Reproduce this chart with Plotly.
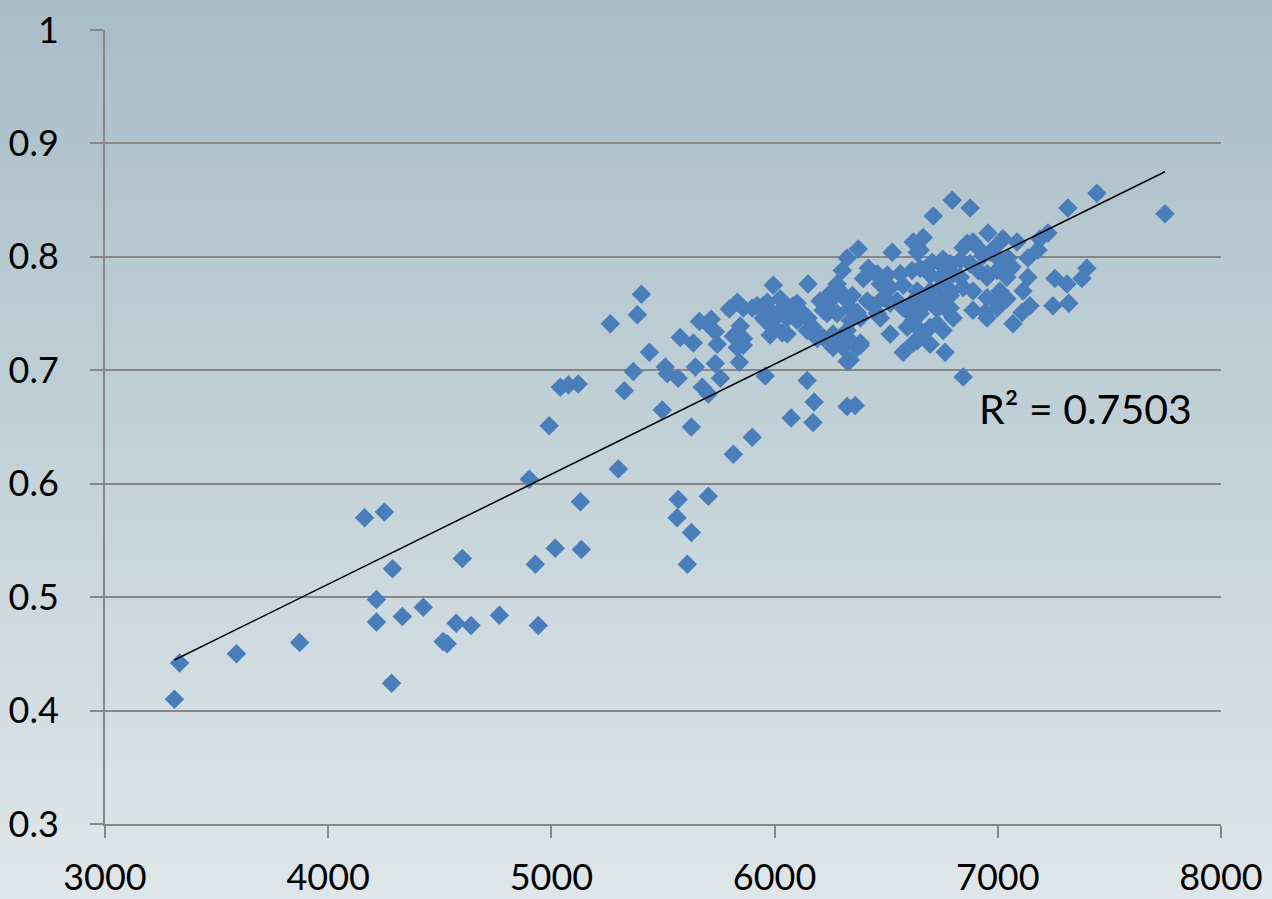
import base64
import struct
import zlib

import numpy as np
import plotly.graph_objects as go

# ---------------- data ----------------
x_vals = [
    3334, 3311, 3589, 3872, 4163, 4252, 4288, 4216, 4216, 4332, 4426, 4284,
    4515, 4533, 4573, 4640, 4601, 4767, 4928, 4941, 5017, 5134, 5130, 4901,
    5403, 5385, 5264, 5439, 5367, 5327, 5040, 5076, 5120, 4990, 5300, 5568,
    5563, 5703, 5627, 5609, 5497, 5627, 5815, 5900, 5577, 5636, 5663, 5716,
    5734, 5743, 5510, 5519, 5568, 5645, 5734, 5676, 5703, 5757, 5842, 5846,
    5860, 5815, 5797, 5833, 5900, 5949, 5994, 5958, 5980, 6025, 6056, 6101,
    6150, 6172, 6204, 6249, 5958, 6146, 6177, 6074, 6172, 6325, 6361, 6307,
    6325, 5698, 5860, 5860, 5833, 5922, 5967, 5949, 5994, 6016, 6034,
    6796, 6876, 6711, 7444, 7314, 7749, 6375, 6527, 6325, 6621, 6666, 6652,
    6956, 7023, 7086, 7189, 7225, 7180, 7399, 7377, 7256, 7310, 7247, 7318,
    7144, 7109, 7068, 6889, 6943, 6988, 7041, 7135, 7113, 6845, 6518, 6576,
    6764, 6728, 6339, 6384,
    7135, 6845, 6889, 6832, 6876, 6934, 6966, 7010, 7046, 7064, 6787, 6832,
    6912, 6952, 6997, 7041, 6845, 6787,
    6639, 6303, 6280, 6249, 6420, 6398, 6474, 6505, 6518, 6563, 6576, 6616,
    6652, 6706, 6755, 6787, 6697, 6742, 6800, 6742, 6787, 6070, 6114, 6056,
    6101, 6150, 6218, 6294, 6325, 6348, 6280, 6339, 6370, 6415, 6442, 6460,
    6487, 6518, 6549, 6576, 6607, 6621, 6652, 6666, 6706, 6728, 6755, 6787,
    6800, 6177, 6218, 6262, 6191, 6262, 6325, 6384, 6594, 6621, 6621, 6666,
    6697, 6755,
    5967, 6083, 6258, 6011, 6083, 6056, 6146, 6235, 6339, 6384, 6474, 6474,
    6460, 6262, 6325, 6370, 6863, 6921, 7005, 6684, 6742, 6952, 6639, 6697,
    6773, 6889, 6952, 7010, 6594, 6652, 6773, 6952, 6997, 6652, 6639, 6697,
]
y_vals = [
    0.442, 0.410, 0.450, 0.460, 0.570, 0.575, 0.525, 0.498, 0.478, 0.483, 0.491, 0.424,
    0.461, 0.459, 0.477, 0.475, 0.534, 0.484, 0.529, 0.475, 0.543, 0.542, 0.584, 0.604,
    0.767, 0.749, 0.741, 0.716, 0.699, 0.682, 0.685, 0.687, 0.688, 0.651, 0.613, 0.586,
    0.570, 0.589, 0.557, 0.529, 0.665, 0.650, 0.626, 0.641, 0.729, 0.724, 0.743, 0.745,
    0.734, 0.723, 0.703, 0.697, 0.693, 0.703, 0.706, 0.685, 0.679, 0.693, 0.707, 0.739,
    0.722, 0.730, 0.754, 0.760, 0.755, 0.757, 0.775, 0.744, 0.731, 0.763, 0.750, 0.759,
    0.776, 0.738, 0.761, 0.753, 0.695, 0.691, 0.672, 0.658, 0.654, 0.668, 0.669, 0.720,
    0.708, 0.741, 0.755, 0.728, 0.720, 0.757, 0.754, 0.746, 0.738, 0.748, 0.733,
    0.850, 0.843, 0.836, 0.856, 0.843, 0.838, 0.807, 0.804, 0.799, 0.813, 0.817, 0.806,
    0.821, 0.816, 0.813, 0.816, 0.821, 0.806, 0.790, 0.781, 0.781, 0.776, 0.757, 0.759,
    0.757, 0.751, 0.741, 0.753, 0.751, 0.761, 0.763, 0.782, 0.770, 0.694, 0.732, 0.716,
    0.716, 0.741, 0.709, 0.722,
    0.799, 0.808, 0.813, 0.797, 0.794, 0.801, 0.804, 0.797, 0.799, 0.791, 0.788, 0.782,
    0.788, 0.782, 0.788, 0.782, 0.773, 0.766,
    0.804, 0.788, 0.776, 0.768, 0.790, 0.781, 0.781, 0.784, 0.773, 0.785, 0.775, 0.788,
    0.790, 0.795, 0.798, 0.794, 0.784, 0.782, 0.785, 0.773, 0.769, 0.755, 0.753, 0.746,
    0.744, 0.746, 0.753, 0.770, 0.761, 0.766, 0.750, 0.744, 0.751, 0.761, 0.757, 0.750,
    0.764, 0.759, 0.761, 0.755, 0.750, 0.761, 0.764, 0.757, 0.760, 0.754, 0.764, 0.755,
    0.746, 0.735, 0.729, 0.732, 0.728, 0.720, 0.735, 0.724, 0.738, 0.744, 0.724, 0.732,
    0.738, 0.735,
    0.760, 0.757, 0.763, 0.750, 0.748, 0.732, 0.735, 0.750, 0.755, 0.746, 0.746, 0.776,
    0.785, 0.724, 0.729, 0.720, 0.812, 0.806, 0.812, 0.791, 0.794, 0.785, 0.770, 0.770,
    0.773, 0.770, 0.764, 0.770, 0.755, 0.750, 0.753, 0.746, 0.755, 0.735, 0.726, 0.723,
]

x_ticks = [3000, 4000, 5000, 6000, 7000, 8000]
y_ticks = [0.3, 0.4, 0.5, 0.6, 0.7, 0.8, 0.9, 1.0]
y_tick_text = ["0.3", "0.4", "0.5", "0.6", "0.7", "0.8", "0.9", "1"]
r2_label = "R² = 0.7503"

# ---------------- trendline (least squares from data) ----------------
xa = np.array(x_vals, dtype=float)
ya = np.array(y_vals, dtype=float)
slope, intercept = np.polyfit(xa, ya, 1)
trend_x = [xa.min(), xa.max()]
trend_y = [slope * v + intercept for v in trend_x]

# ---------------- gradient background image ----------------
def gradient_png(top, bottom, h=256):
    rows = b""
    for i in range(h):
        t = i / (h - 1)
        c = bytes(int(round(top[k] + (bottom[k] - top[k]) * t)) for k in range(3))
        rows += b"\x00" + c
    def chunk(tag, data):
        return (struct.pack(">I", len(data)) + tag + data +
                struct.pack(">I", zlib.crc32(tag + data) & 0xFFFFFFFF))
    png = b"\x89PNG\r\n\x1a\n"
    png += chunk(b"IHDR", struct.pack(">IIBBBBB", 1, h, 8, 2, 0, 0, 0))
    png += chunk(b"IDAT", zlib.compress(rows))
    png += chunk(b"IEND", b"")
    return "data:image/png;base64," + base64.b64encode(png).decode()

W, H = 1272, 899
ML, MR, MT, MB = 105, 51, 30, 75
PW, PH = W - ML - MR, H - MT - MB

bg = gradient_png((167, 189, 199), (223, 230, 233))

FONT = "Lato"
GRID = "#878787"

fig = go.Figure()
fig.add_trace(go.Scatter(
    x=x_vals, y=y_vals, mode="markers",
    marker=dict(symbol="diamond", size=15, color="#4A7EBB",
                line=dict(width=0)),
    showlegend=False, hoverinfo="skip",
))
fig.add_trace(go.Scatter(
    x=trend_x, y=trend_y, mode="lines",
    line=dict(color="black", width=1.5),
    showlegend=False, hoverinfo="skip",
))

fig.add_annotation(
    x=6905, y=0.666, xref="x", yref="y", text=r2_label, showarrow=False,
    xanchor="left", yanchor="middle",
    font=dict(family=FONT, size=41, color="black"),
)

fig.update_layout(
    width=W, height=H,
    margin=dict(l=ML, r=MR, t=MT, b=MB, pad=0, autoexpand=False),
    paper_bgcolor="#C5D2D8",
    plot_bgcolor="rgba(0,0,0,0)",
    font=dict(family=FONT, size=36, color="black"),
    images=[dict(
        source=bg, xref="paper", yref="paper",
        x=-ML / PW, y=1 + MT / PH, sizex=W / PW, sizey=H / PH,
        xanchor="left", yanchor="top", sizing="stretch", layer="below",
    )],
    xaxis=dict(
        range=[3000, 8000], tickmode="array", tickvals=x_ticks,
        ticktext=[str(v) for v in x_ticks],
        showgrid=False, zeroline=False, automargin=False,
        showline=True, linecolor=GRID, linewidth=2,
        ticks="outside", ticklen=12, tickwidth=2, tickcolor=GRID,
        ticklabelstandoff=9,
        tickfont=dict(family=FONT, size=36, color="black"),
    ),
    yaxis=dict(
        range=[0.3, 1.0], tickmode="array", tickvals=y_ticks,
        ticktext=y_tick_text,
        showgrid=True, gridcolor=GRID, gridwidth=2, zeroline=False,
        automargin=False,
        showline=True, linecolor=GRID, linewidth=2,
        ticks="outside", ticklen=13, tickwidth=2, tickcolor=GRID,
        ticklabelstandoff=24,
        tickfont=dict(family=FONT, size=36, color="black"),
    ),
)

fig.write_html("out.html", config={"displayModeBar": False})

# remove the default page margin so the figure fills the window exactly
with open("out.html", "r", encoding="utf-8") as f:
    html = f.read()
html = html.replace("<body>", '<body style="margin:0;padding:0;overflow:hidden">', 1)
with open("out.html", "w", encoding="utf-8") as f:
    f.write(html)
